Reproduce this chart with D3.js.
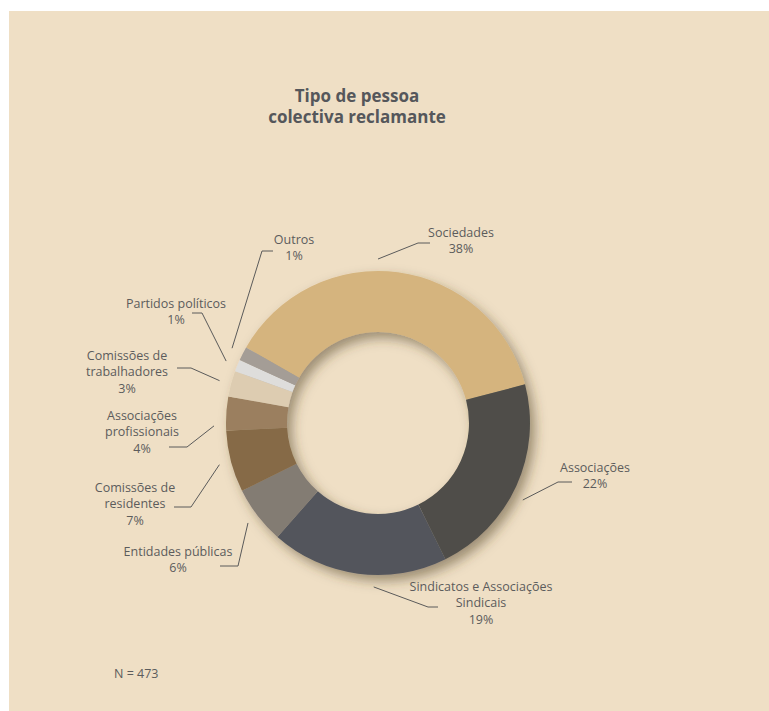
<!DOCTYPE html>
<html>
<head>
<meta charset="utf-8">
<script src="https://cdn.jsdelivr.net/npm/d3@7"></script>
<style>
  html, body { margin: 0; padding: 0; background: #ffffff; }
  svg { display: block; }
</style>
</head>
<body>
<div id="chart"></div>
<script>
// Categories (clockwise, starting with Sociedades)
const categories = [
  'Sociedades',
  'Associações',
  'Sindicatos e Associações Sindicais',
  'Entidades públicas',
  'Comissões de residentes',
  'Associações profissionais',
  'Comissões de trabalhadores',
  'Partidos políticos',
  'Outros'
];
// Estimated counts (N = 473)
const counts = [178, 103, 89, 29, 31, 17, 13, 6, 7];
// Percent labels as printed
const percents = ['38%', '22%', '19%', '6%', '7%', '4%', '3%', '1%', '1%'];
// Label text split into lines
const labelLines = [
  ['Sociedades'],
  ['Associações'],
  ['Sindicatos e Associações', 'Sindicais'],
  ['Entidades públicas'],
  ['Comissões de', 'residentes'],
  ['Associações', 'profissionais'],
  ['Comissões de', 'trabalhadores'],
  ['Partidos políticos'],
  ['Outros']
];
const totalN = 473;

const colors = ['#d5b47e', '#4f4e48', '#52555c', '#837b73', '#866a46',
                '#9b7f5e', '#ddccb1', '#dedddb', '#a49d96'];

// Label placement (layout only): text centre, first baseline, elbow, line end, anchor angle (deg)
const labelLayout = [
  { tx: 461, ty: 237, ex: 418, ey: 243, hx: 430, angle: 0 },
  { tx: 595, ty: 472, ex: 558, ey: 482, hx: 572, angle: 118 },
  { tx: 481, ty: 591, ex: 428, ey: 607, hx: 438, angle: 181.5 },
  { tx: 178, ty: 556, ex: 238, ey: 566, hx: 220 },
  { tx: 135, ty: 492, ex: 191, ey: 507, hx: 174 },
  { tx: 142, ty: 420, ex: 187, ey: 447, hx: 169, angle: 269 },
  { tx: 127, ty: 360, ex: 191, ey: 368, hx: 177 },
  { tx: 176, ty: 308, ex: 202, ey: 313, hx: 192 },
  { tx: 294, ty: 244, ex: 262, ey: 251, hx: 273 }
];

const W = 769, H = 711;
const cx = 378, cy = 423;
const outerR = 152, innerR = 91, leaderR = 164;
const startDeg = -60.2;
const textColor = '#5c5c5c';
const fontFamily = '"Open Sans", "Noto Sans", sans-serif';

const svg = d3.select('#chart')
  .append('svg')
  .attr('width', W)
  .attr('height', H);

// Panel background
svg.append('rect')
  .attr('x', 9)
  .attr('y', 11)
  .attr('width', W - 9)
  .attr('height', H - 11)
  .attr('fill', '#efdfc5');

// Drop shadow for the ring
const defs = svg.append('defs');
const shadow = defs.append('filter')
  .attr('id', 'ring-shadow')
  .attr('x', '-20%').attr('y', '-20%')
  .attr('width', '140%').attr('height', '140%');
shadow.append('feDropShadow')
  .attr('dx', 5)
  .attr('dy', 6)
  .attr('stdDeviation', 6)
  .attr('flood-color', '#4a3a22')
  .attr('flood-opacity', 0.5);

// Title
const title = svg.append('text')
  .attr('x', 357)
  .attr('y', 102)
  .attr('text-anchor', 'middle')
  .style('font-family', fontFamily)
  .style('font-weight', 'bold')
  .style('font-size', '17px')
  .style('fill', '#55575b');
title.append('tspan').attr('x', 357).attr('y', 102).text('Tipo de pessoa');
title.append('tspan').attr('x', 357).attr('y', 123).text('colectiva reclamante');

// Pie layout
const rad = d => d * Math.PI / 180;
const pie = d3.pie()
  .sort(null)
  .value(d => d.value)
  .startAngle(rad(startDeg))
  .endAngle(rad(startDeg) + 2 * Math.PI);

const data = categories.map((c, i) => ({
  name: c, value: counts[i], pct: percents[i], lines: labelLines[i],
  color: colors[i], layout: labelLayout[i]
}));
const arcs = pie(data);

const arc = d3.arc().innerRadius(innerR).outerRadius(outerR);
const leaderArc = d3.arc().innerRadius(leaderR).outerRadius(leaderR);

const g = svg.append('g').attr('transform', `translate(${cx},${cy})`);

g.append('g')
  .attr('filter', 'url(#ring-shadow)')
  .selectAll('path')
  .data(arcs)
  .enter()
  .append('path')
  .attr('d', arc)
  .attr('fill', d => d.data.color);

// Leader lines
svg.selectAll('.leader')
  .data(arcs)
  .enter()
  .append('polyline')
  .attr('class', 'leader')
  .attr('fill', 'none')
  .attr('stroke', '#5a5a5a')
  .attr('stroke-width', 1)
  .attr('points', d => {
    const L = d.data.layout;
    const a = L.angle !== undefined ? rad(L.angle) : (d.startAngle + d.endAngle) / 2;
    const p = leaderArc.centroid({ startAngle: a, endAngle: a });
    return [[p[0] + cx, p[1] + cy], [L.ex, L.ey], [L.hx, L.ey]].map(q => q.join(',')).join(' ');
  });

// Labels
const lineH = 16.3;
svg.selectAll('.label')
  .data(arcs)
  .enter()
  .append('text')
  .attr('class', 'label')
  .attr('text-anchor', 'middle')
  .style('font-family', fontFamily)
  .style('font-size', '12.5px')
  .style('fill', textColor)
  .each(function(d) {
    const L = d.data.layout;
    const t = d3.select(this);
    const rows = d.data.lines.concat([d.data.pct]);
    rows.forEach((r, i) => {
      t.append('tspan')
        .attr('x', L.tx)
        .attr('y', L.ty + i * lineH)
        .text(r);
    });
  });

// Sample size
svg.append('text')
  .attr('x', 114)
  .attr('y', 678)
  .style('font-family', fontFamily)
  .style('font-size', '12.5px')
  .style('fill', textColor)
  .text('N = ' + totalN);
</script>
</body>
</html>
